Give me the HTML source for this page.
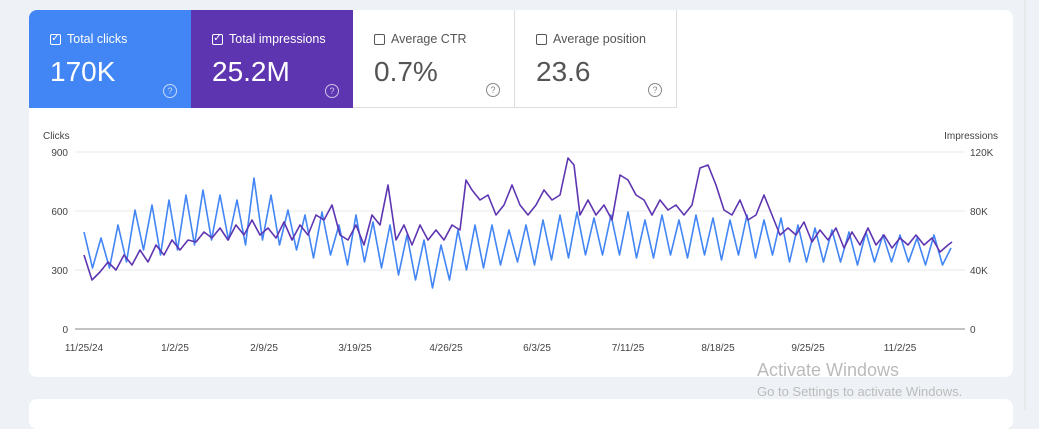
<!DOCTYPE html>
<html><head><meta charset="utf-8"><style>
body{margin:0;width:1039px;height:410px;background:#eef2f6;font-family:"Liberation Sans",sans-serif;position:relative;overflow:hidden}
.card{position:absolute;left:29px;top:10px;width:984px;height:367px;background:#fff;border-radius:8px;overflow:hidden}
.card2{position:absolute;left:29px;top:399px;width:984px;height:30px;background:#fff;border-radius:8px}
.tile{position:absolute;top:0;height:98px;width:162px;box-sizing:border-box;padding:22px 0 0 21px}
.lab{font-size:12.5px;display:flex;align-items:center}
.cb{width:11px;height:11px;border:1.5px solid currentColor;border-radius:2px;margin-right:6px;box-sizing:border-box;position:relative;font-size:10px;line-height:8px;text-align:center}
.val{font-size:28px;margin-top:10px}
.q{position:absolute;right:14px;bottom:10px;width:12px;height:12px;border:1.3px solid currentColor;border-radius:50%;font-size:9px;text-align:center;line-height:12px;opacity:.7}
.ax{font-size:10px;fill:#444}
.wm{position:absolute;left:757px;color:#bbb}
</style></head><body>
<div class="card">
<div class="tile" style="left:0;background:#4285f4;color:#fff"><div class="lab"><span class="cb">✓</span>Total clicks</div><div class="val">170K</div><span class="q">?</span></div>
<div class="tile" style="left:162px;background:#5e35b1;color:#fff"><div class="lab"><span class="cb">✓</span>Total impressions</div><div class="val">25.2M</div><span class="q">?</span></div>
<div class="tile" style="left:324px;color:#555;border-right:1px solid #ddd;border-bottom:1px solid #ddd"><div class="lab"><span class="cb"></span>Average CTR</div><div class="val">0.7%</div><span class="q">?</span></div>
<div class="tile" style="left:486px;color:#555;border-right:1px solid #ddd;border-bottom:1px solid #ddd"><div class="lab"><span class="cb"></span>Average position</div><div class="val">23.6</div><span class="q">?</span></div>
</div>
<div class="card2"></div>
<svg width="1039" height="410" style="position:absolute;left:0;top:0">
<text x="43" y="139" class="ax">Clicks</text>
<text x="998" y="139" class="ax" text-anchor="end">Impressions</text>
<g stroke="#e8e8e8"><line x1="75" y1="152" x2="965" y2="152"/><line x1="75" y1="211" x2="965" y2="211"/><line x1="75" y1="270" x2="965" y2="270"/></g>
<line x1="75" y1="329" x2="965" y2="329" stroke="#888"/>
<g class="ax" text-anchor="end"><text x="68" y="156">900</text><text x="68" y="215">600</text><text x="68" y="274">300</text><text x="68" y="333">0</text></g>
<g class="ax"><text x="970" y="156">120K</text><text x="970" y="215">80K</text><text x="970" y="274">40K</text><text x="970" y="333">0</text></g>
<g class="ax" text-anchor="middle"><text x="84" y="351">11/25/24</text><text x="175" y="351">1/2/25</text><text x="264" y="351">2/9/25</text><text x="355" y="351">3/19/25</text><text x="446" y="351">4/26/25</text><text x="537" y="351">6/3/25</text><text x="628" y="351">7/11/25</text><text x="718" y="351">8/18/25</text><text x="808" y="351">9/25/25</text><text x="900" y="351">11/2/25</text></g>
<polyline fill="none" stroke="#4285f4" stroke-width="1.6" stroke-linejoin="round" points="84,232 92.5,268 101,238 109.5,268 118,225 126.5,262 135,210 143.5,250 152,205 160.5,255 169,200 177.5,250 186,195 194.5,245 203,190 211.5,240 220,195 228.5,240 237,200 245.5,245 254,178 262.5,240 271,195 279.5,245 288,210 296.5,250 305,215 313.5,258 322,212 330.5,255 339,225 347.5,265 356,215 364.5,262 373,222 381.5,268 390,225 398.5,275 407,235 415.5,280 424,240 432.5,288 441,245 449.5,280 458,230 466.5,270 475,225 483.5,268 492,225 500.5,265 509,230 517.5,262 526,225 534.5,265 543,220 551.5,260 560,215 568.5,258 577,212 585.5,255 594,218 602.5,255 611,215 619.5,255 628,212 636.5,258 645,220 653.5,258 662,215 670.5,255 679,220 687.5,258 696,215 704.5,255 713,218 721.5,260 730,220 738.5,255 747,215 755.5,258 764,220 772.5,255 781,218 789.5,262 798,225 806.5,262 815,228 823.5,262 832,230 840.5,262 849,232 857.5,265 866,232 874.5,262 883,235 891.5,262 900,235 908.5,262 917,238 925.5,265 934,235 942.5,265 951,248"/>
<polyline fill="none" stroke="#5e35b1" stroke-width="1.6" stroke-linejoin="round" points="84,255 92,280 100,272 108,262 116,270 124,255 132,265 140,250 148,262 156,245 164,255 172,240 180,250 188,240 196,242 204,232 212,238 220,228 228,240 236,225 244,235 252,220 260,235 268,228 276,238 284,222 292,240 300,225 308,235 316,215 324,220 332,205 340,235 348,240 356,225 364,245 372,215 380,225 388,185 396,240 404,225 412,245 420,225 428,240 436,230 444,240 452,225 460,230 466,180 472,190 480,200 488,195 496,215 504,205 512,185 520,205 528,215 536,205 544,190 552,200 560,195 568,158 574,165 580,215 588,200 596,215 604,205 612,220 620,175 628,180 636,195 644,200 652,215 660,200 668,210 676,205 684,215 692,205 700,168 708,165 716,185 724,210 732,215 740,200 748,220 756,215 764,195 772,215 780,235 788,228 796,235 804,222 812,242 820,230 828,240 836,228 844,248 852,232 860,245 868,228 876,245 884,235 892,248 900,238 908,245 916,235 924,245 932,238 940,252 948,245 952,242"/>
<line x1="1025" y1="0" x2="1025" y2="410" stroke="#ddd"/>
</svg>
<div class="wm" style="top:360px;font-size:18px">Activate Windows</div>
<div class="wm" style="top:384px;font-size:13px">Go to Settings to activate Windows.</div>
</body></html>
